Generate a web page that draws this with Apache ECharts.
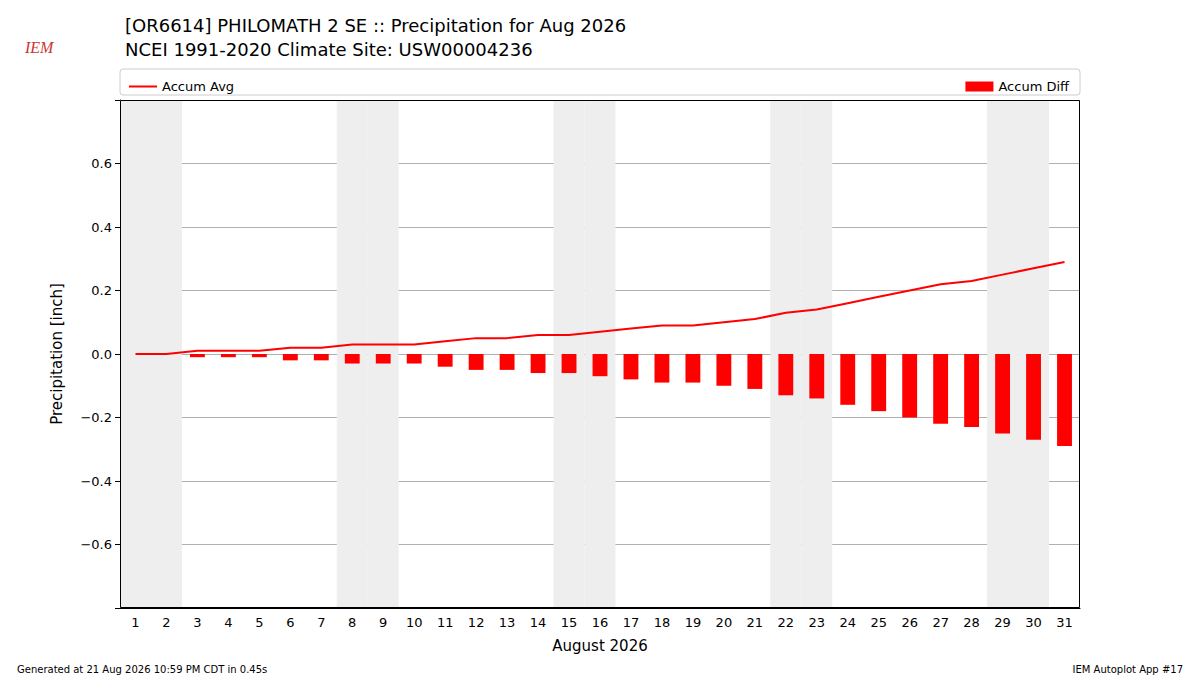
<!DOCTYPE html>
<html><head><meta charset="utf-8">
<script src="https://cdn.jsdelivr.net/npm/echarts@6/dist/echarts.min.js"></script>
<style>body{margin:0}#c{width:1200px;height:675px}</style></head>
<body><div id="c"></div>
<script>
// Datos
const dias = Array.from({length: 31}, (_, i) => String(i + 1));
const accumAvg = [0,0,0.01,0.01,0.01,0.02,0.02,0.03,0.03,0.03,0.04,0.05,0.05,0.06,0.06,0.07,0.08,0.09,0.09,0.10,0.11,0.13,0.14,0.16,0.18,0.20,0.22,0.23,0.25,0.27,0.29];
const accumDiff = [0,0,-0.01,-0.01,-0.01,-0.02,-0.02,-0.03,-0.03,-0.03,-0.04,-0.05,-0.05,-0.06,-0.06,-0.07,-0.08,-0.09,-0.09,-0.10,-0.11,-0.13,-0.14,-0.16,-0.18,-0.20,-0.22,-0.23,-0.25,-0.27,-0.29];
const finDeSemana = [1,2,8,9,15,16,22,23,29,30];

const fondoArriba = dias.map(d => finDeSemana.includes(+d) ? 0.8 : null);
const fondoAbajo = dias.map(d => finDeSemana.includes(+d) ? -0.8 : null);

const chart = echarts.init(document.getElementById('c'), null, {renderer: 'svg'});
const fuente = 'DejaVu Sans';
chart.setOption({
  textStyle: {fontFamily: fuente},
  animation: false,
  title: [
    {text: '[OR6614] PHILOMATH 2 SE :: Precipitation for Aug 2026\nNCEI 1991-2020 Climate Site: USW00004236',
     left: 120, top: 8, textStyle: {fontSize: 18, fontWeight: 'normal', color: '#000', lineHeight: 24, fontFamily: fuente}},
    {text: 'IEM', left: 20, top: 34, textStyle: {fontSize: 16, fontStyle: 'italic', fontWeight: 'normal', color: '#c33', fontFamily: 'Liberation Serif'}},
    {text: 'Generated at 21 Aug 2026 10:59 PM CDT in 0.45s', left: 12, top: 659, textStyle: {fontSize: 10, fontWeight: 'normal', color: '#000', fontFamily: fuente}},
    {text: 'IEM Autoplot App #17', right: 12, top: 659, textStyle: {fontSize: 10, fontWeight: 'normal', color: '#000', fontFamily: fuente}}
  ],
  graphic: [
    {type: 'rect', shape: {x: 120, y: 69, width: 960, height: 26, r: 3}, style: {fill: 'none', stroke: '#ccc'}},
    {type: 'rect', z: 10, shape: {x: 120.5, y: 100.5, width: 959, height: 507}, style: {fill: 'none', stroke: '#000'}}
  ],
  legend: [
    {data: [{name: 'Accum Avg', icon: 'path://M0,5L28,5L28,7L0,7Z'}], left: 124, top: 75, itemWidth: 28, itemHeight: 10, textStyle: {fontSize: 13, color: '#000'}},
    {data: [{name: 'Accum Diff', icon: 'rect'}], right: 126, top: 75, itemWidth: 28, itemHeight: 10, textStyle: {fontSize: 13, color: '#000'}}
  ],
  grid: {left: 120, right: 120, top: 100, bottom: 67},
  xAxis: [{
    type: 'category', data: dias, name: 'August 2026', nameLocation: 'middle', nameGap: 30,
    nameTextStyle: {fontSize: 15, color: '#000'},
    axisLine: {onZero: false, lineStyle: {color: '#000'}},
    axisTick: {alignWithLabel: true, lineStyle: {color: '#000'}},
    axisLabel: {color: '#000', fontSize: 13}
  }, {
    type: 'category', data: dias, show: false
  }],
  yAxis: {
    type: 'value', min: -0.8, max: 0.8, interval: 0.2,
    name: 'Precipitation [inch]', nameLocation: 'middle', nameGap: 56,
    nameTextStyle: {fontSize: 15, color: '#000'},
    axisLine: {show: true, lineStyle: {color: '#000'}},
    axisTick: {show: true, lineStyle: {color: '#000'}},
    axisLabel: {color: '#000', fontSize: 13, formatter: v => Math.abs(v) > 0.7 ? '' : v.toFixed(1).replace('-', '−')},
    splitLine: {lineStyle: {color: '#b0b0b0'}}
  },
  series: [
    {type: 'bar', xAxisIndex: 1, stack: 'fondo', data: fondoArriba, barCategoryGap: '0%', silent: true, itemStyle: {color: '#eeeeee', borderColor: '#eeeeee', borderWidth: 1}, z: 0},
    {type: 'bar', xAxisIndex: 1, stack: 'fondo', data: fondoAbajo, barCategoryGap: '0%', silent: true, itemStyle: {color: '#eeeeee', borderColor: '#eeeeee', borderWidth: 1}, z: 0},
    {name: 'Accum Diff', type: 'bar', data: accumDiff, barWidth: '48%', itemStyle: {color: '#ff0000'}, z: 2},
    {name: 'Accum Avg', type: 'line', data: accumAvg, symbol: 'none', lineStyle: {color: '#ff0000', width: 2}, itemStyle: {color: '#ff0000'}, z: 3}
  ]
});
</script></body></html>
